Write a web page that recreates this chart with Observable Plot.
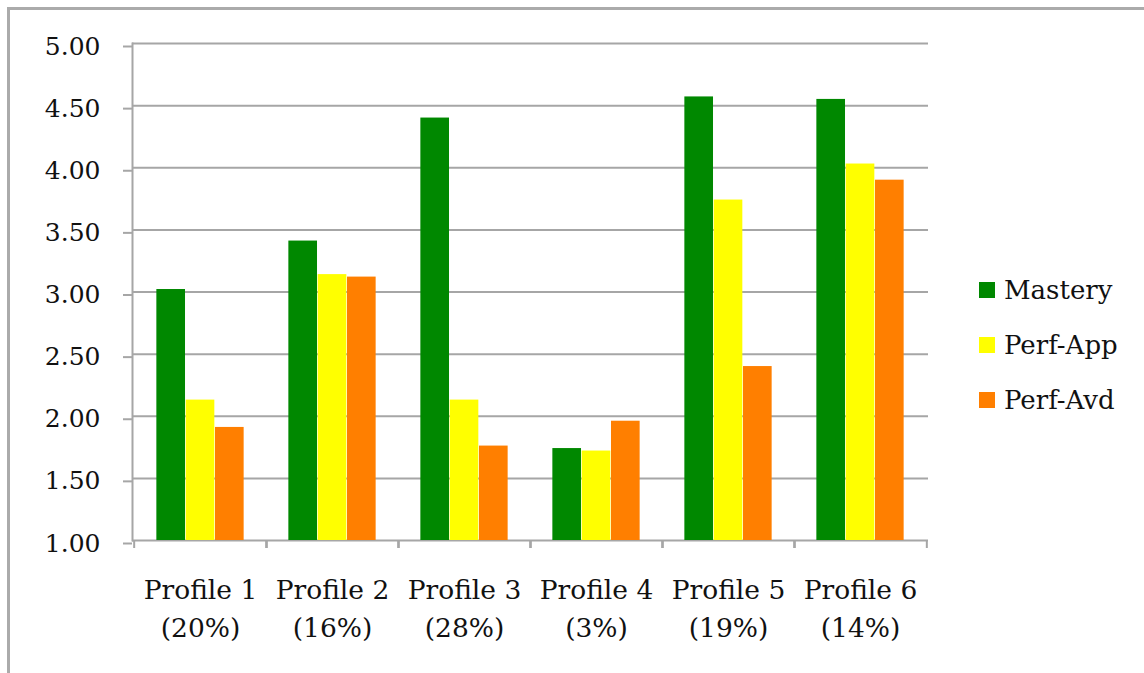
<!DOCTYPE html>
<html><head><meta charset="utf-8">
<script src="https://cdn.jsdelivr.net/npm/d3@7"></script>
<script src="https://cdn.jsdelivr.net/npm/@observablehq/plot@0.6"></script>
<style>
body{margin:0;background:#fff;}
#wrap{position:relative;width:1144px;height:673px;overflow:hidden;background:#fff;}
#border{position:absolute;left:7px;top:7px;width:1200px;height:700px;border-top:3px solid #ababab;border-left:3px solid #ababab;}
#chart{position:absolute;left:0;top:0;}
#chart svg{display:block;}
#legend{position:absolute;left:979px;top:262px;font-family:"DejaVu Serif";font-size:26px;color:#111;}
.item{display:flex;align-items:center;height:55px;}
.sw{width:16px;height:16px;margin-right:9px;}
</style></head><body>
<div id="wrap"><div id="border"></div><div id="chart"></div><div id="legend"></div></div>
<script>
// ---- data ----
const profiles = ["Profile 1\n(20%)", "Profile 2\n(16%)", "Profile 3\n(28%)", "Profile 4\n(3%)", "Profile 5\n(19%)", "Profile 6\n(14%)"];
const seriesNames = ["Mastery", "Perf-App", "Perf-Avd"];
const mastery = [3.02, 3.41, 4.40, 1.74, 4.57, 4.55];
const perfApp = [2.13, 3.14, 2.13, 1.72, 3.74, 4.03];
const perfAvd = [1.91, 3.12, 1.76, 1.96, 2.40, 3.90];
const yTicks = [1.0, 1.5, 2.0, 2.5, 3.0, 3.5, 4.0, 4.5, 5.0];
const seriesColors = ["#008800", "#ffff00", "#ff7f00"];

// ---- layout ----
const W = 1144, H = 673, mL = 132, mR = 216, mT = 43, mB = 133;
const step = (W - mL - mR) / profiles.length;
const barW = step * 0.663 / 3;
const inset = (step - barW) / 2;
const gray = "#a6a6a6";
const yMin = yTicks[0];

const seriesValues = [mastery, perfApp, perfAvd];
const rows = [];
seriesNames.forEach((s, si) => profiles.forEach((p, pi) => rows.push({profile: p, series: s, value: seriesValues[si][pi]})));

const barMarks = seriesNames.map((s, si) => Plot.barY(rows.filter(r => r.series === s), {
  x: "profile", y1: () => yMin, y2: "value", fill: "series",
  insetLeft: inset, insetRight: inset, dx: (si - 1) * barW
}));

const chart = Plot.plot({
  width: W, height: H,
  marginLeft: mL, marginRight: mR, marginTop: mT, marginBottom: mB,
  style: {fontFamily: "DejaVu Serif", fontSize: "25px", color: "#111", background: "transparent"},
  x: {type: "band", domain: profiles, padding: 0, label: null},
  y: {domain: [yTicks[0], yTicks[yTicks.length - 1]], label: null},
  color: {domain: seriesNames, range: seriesColors},
  marks: [
    Plot.gridY(yTicks, {stroke: gray, strokeOpacity: 1, strokeWidth: 2}),
    Plot.frame({anchor: "left", stroke: gray, strokeWidth: 2}),
    ...barMarks,
    Plot.axisY(yTicks, {tickSize: 9, tickPadding: 23, tickFormat: d3.format(".2f"), stroke: gray, strokeWidth: 2, fontSize: 25, fill: "#111", dy: 3, label: null}),
    Plot.axisX({tickSize: 0, tickPadding: 31, lineHeight: 1.45, fontSize: 26.5, fill: "#111", label: null}),
    Plot.axisX({tickSize: 8, text: null, dx: -step / 2, stroke: gray, strokeWidth: 2, label: null}),
    Plot.axisX({tickSize: 8, text: null, dx: step / 2, stroke: gray, strokeWidth: 2, label: null})
  ]
});
document.getElementById("chart").appendChild(chart);

const legend = document.getElementById("legend");
seriesNames.forEach((s, i) => {
  const it = document.createElement("div");
  it.className = "item";
  const sw = document.createElement("div");
  sw.className = "sw";
  sw.style.background = seriesColors[i];
  const t = document.createElement("span");
  t.textContent = s;
  it.appendChild(sw); it.appendChild(t);
  legend.appendChild(it);
});
</script>
</body></html>
